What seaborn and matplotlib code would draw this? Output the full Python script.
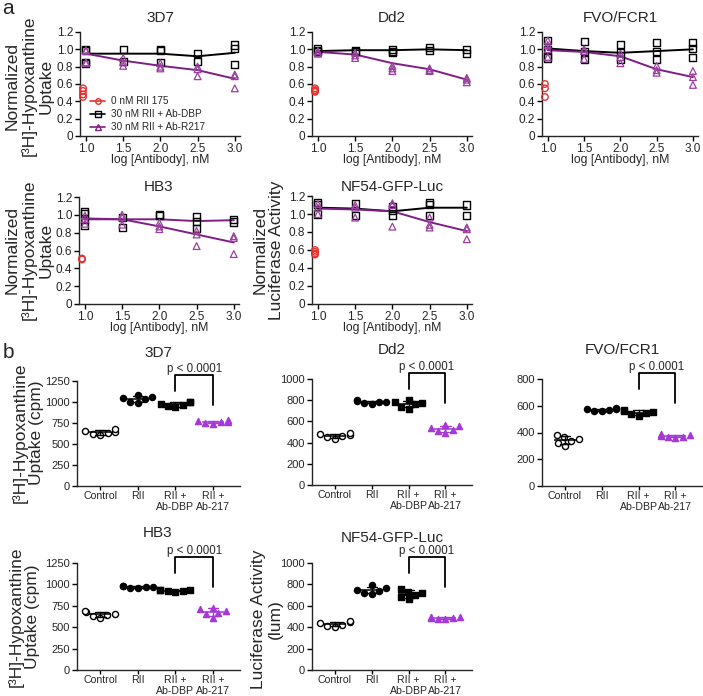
import numpy as np
import pandas as pd
import matplotlib
matplotlib.use("Agg")
import matplotlib.pyplot as plt
from matplotlib.lines import Line2D
import seaborn as sns

sns.set_theme(style="ticks")
plt.rcParams["font.family"] = ["Liberation Sans", "DejaVu Sans"]
plt.rcParams["axes.linewidth"] = 1.0

W, H = 703, 696

# ---------------- panel a data ----------------
DOSES = [1.0, 1.5, 2.0, 2.5, 3.0]
RED_X = 0.96

A_3D7_RED = [0.55, 0.52, 0.48, 0.45]
A_3D7_DBP = [[1.00, 0.99, 0.85, 0.84], [1.00, 0.86], [1.00, 0.99, 0.85], [0.95, 0.86], [1.05, 1.01, 0.82]]
A_3D7_R217 = [[0.99, 0.98, 0.85, 0.84], [0.90, 0.85, 0.81], [0.84, 0.80, 0.78], [0.80, 0.77, 0.69], [0.71, 0.69, 0.55]]
A_3D7_DBP_LINE = [0.95, 0.95, 0.95, 0.92, 0.96]
A_3D7_R217_LINE = [0.95, 0.87, 0.81, 0.76, 0.66]

A_DD2_RED = [0.55, 0.53, 0.52, 0.51]
A_DD2_DBP = [[1.01, 0.99, 0.98], [0.99, 0.98], [1.00, 0.97, 0.96], [1.02, 0.99], [1.00, 0.95]]
A_DD2_R217 = [[0.98, 0.96, 0.95], [0.96, 0.93, 0.90], [0.81, 0.78, 0.75], [0.78, 0.76, 0.75], [0.67, 0.65, 0.62]]
A_DD2_DBP_LINE = [0.98, 0.99, 0.99, 1.00, 0.99]
A_DD2_R217_LINE = [0.97, 0.94, 0.84, 0.77, 0.65]

A_FVO_RED = [0.60, 0.55, 0.45]
A_FVO_DBP = [[1.10, 1.00, 0.92, 0.90], [1.09, 0.97, 0.88], [1.06, 0.96, 0.88], [1.08, 0.98, 0.88], [1.08, 1.01, 0.91]]
A_FVO_R217 = [[1.10, 1.05, 1.00, 0.91], [1.00, 0.98, 0.89], [0.95, 0.91, 0.84], [0.81, 0.76, 0.73], [0.75, 0.68, 0.59]]
A_FVO_DBP_LINE = [1.01, 0.98, 0.96, 0.98, 1.00]
A_FVO_R217_LINE = [0.99, 0.97, 0.92, 0.77, 0.68]

A_HB3_RED = [0.51, 0.50]
A_HB3_DBP = [[1.04, 1.02, 0.95, 0.88], [0.97, 0.86], [1.00, 0.99], [0.98, 0.93, 0.85], [0.95, 0.92]]
A_HB3_R217 = [[0.99, 0.95, 0.90], [1.00, 0.97, 0.89], [0.91, 0.87, 0.84], [0.82, 0.78, 0.65], [0.76, 0.74, 0.56]]
A_HB3_DBP_LINE = [0.95, 0.95, 0.95, 0.93, 0.94]
A_HB3_R217_LINE = [0.96, 0.95, 0.87, 0.78, 0.69]

A_NF54_RED = [0.60, 0.58, 0.56, 0.55]
A_NF54_DBP = [[1.13, 1.11, 1.00], [1.12, 0.98], [1.08, 1.04, 0.98], [1.13, 1.11, 0.98], [1.10, 0.98]]
A_NF54_R217 = [[1.11, 1.07, 1.00], [1.10, 1.07, 0.96], [1.12, 1.10, 0.86], [0.96, 0.88, 0.85], [0.85, 0.83, 0.72]]
A_NF54_DBP_LINE = [1.07, 1.06, 1.03, 1.07, 1.07]
A_NF54_R217_LINE = [1.06, 1.05, 1.03, 0.91, 0.81]

A_YTICKS = [0, 0.2, 0.4, 0.6, 0.8, 1.0, 1.2]
A_YTICKLABELS = ["0", "0.2", "0.4", "0.6", "0.8", "1.0", "1.2"]
A_XTICKS = [1.0, 1.5, 2.0, 2.5, 3.0]
A_XTICKLABELS = ["1.0", "1.5", "2.0", "2.5", "3.0"]
LEGEND_LABELS = ["0 nM RII 175", "30 nM RII + Ab-DBP", "30 nM RII + Ab-R217"]

# ---------------- panel b data ----------------
CATS = ["Control", "RII", "RII +\nAb-DBP", "RII +\nAb-217"]
B_3D7 = [[605, 620, 630, 640, 655, 680], [990, 1000, 1030, 1045, 1065, 1080],
         [940, 950, 960, 980, 995, 1000], [735, 750, 760, 765, 770, 780]]
B_DD2 = [[430, 450, 460, 470, 480, 490], [765, 772, 780, 785, 790, 798],
         [720, 740, 760, 770, 780, 800], [490, 505, 520, 540, 555, 570]]
B_FVO = [[300, 320, 335, 350, 365, 380], [558, 563, 568, 573, 578, 582],
         [525, 538, 545, 555, 562, 570], [360, 365, 370, 375, 380, 388]]
B_HB3 = [[610, 630, 648, 660, 675, 690], [958, 963, 968, 973, 978, 985],
         [915, 920, 925, 930, 935, 940], [605, 650, 670, 690, 710, 730]]
B_NF54 = [[400, 412, 425, 438, 448, 455], [710, 722, 738, 750, 762, 790],
          [660, 680, 700, 718, 732, 760], [474, 479, 484, 489, 494, 500]]
B_YMAX = {"3D7": 1250, "Dd2": 1000, "FVO/FCR1": 800, "HB3": 1250, "NF54-GFP-Luc": 1000}
B_YSTEP = {"3D7": 250, "Dd2": 200, "FVO/FCR1": 200, "HB3": 250, "NF54-GFP-Luc": 200}

RED = "#E8312F"
PURPLE_A = "#7E1F86"
PURPLE_A_PT = "#9A3FA0"
PURPLE_B = "#A638D8"

fig = plt.figure(figsize=(W / 100, H / 100), dpi=100)


def add_ax(l, t, r, b):
    return fig.add_axes([l / W, 1 - b / H, (r - l) / W, (b - t) / H])


def ftext(px, py, s, **kw):
    fig.text(px / W, 1 - py / H, s, **kw)


def flatten(groups):
    xs, ys = [], []
    for d, g in zip(DOSES, groups):
        for v in g:
            xs.append(d)
            ys.append(v)
    return xs, ys


def panel_a(ax, red, dbp, r217, dbp_line, r217_line, dbp_line_color="black"):
    sns.scatterplot(x=[RED_X] * len(red), y=red, ax=ax, marker="o", s=22,
                    facecolor="none", edgecolor=RED, linewidth=1.0, clip_on=False, zorder=4)
    x, y = flatten(dbp)
    sns.scatterplot(x=x, y=y, ax=ax, marker="s", s=26, facecolor="none",
                    edgecolor="black", linewidth=1.0, clip_on=False, zorder=4)
    x, y = flatten(r217)
    sns.scatterplot(x=x, y=y, ax=ax, marker="^", s=24, facecolor="none",
                    edgecolor=PURPLE_A_PT, linewidth=0.9, clip_on=False, zorder=4)
    sns.lineplot(x=DOSES, y=dbp_line, ax=ax, color=dbp_line_color, linewidth=1.4, zorder=3)
    sns.lineplot(x=DOSES, y=r217_line, ax=ax, color=PURPLE_A, linewidth=1.4, zorder=3)
    ax.set_xlim(0.92, 3.07)
    ax.set_ylim(0, 1.2)
    ax.set_yticks(A_YTICKS)
    ax.set_yticklabels(A_YTICKLABELS)
    ax.set_xticks(A_XTICKS)
    ax.set_xticklabels(A_XTICKLABELS)
    ax.tick_params(labelsize=8.5, length=3.5, width=1, pad=1.5, color="black")
    ax.set_xlabel("")
    ax.set_ylabel("")
    sns.despine(ax=ax)


def panel_b(ax, name, groups):
    for i, (cat, vals) in enumerate(zip(CATS, groups)):
        kw = dict(size=4.4, linewidth=1.0, edgecolor="black")
        if i == 0:
            kw.update(marker="o", color="white")
        elif i == 1:
            kw.update(marker="o", color="black")
        elif i == 2:
            kw.update(marker="s", color="black", size=4.2)
        else:
            kw.update(marker="^", color=PURPLE_B, edgecolor=PURPLE_B, size=4.4)
        sns.swarmplot(x=[cat] * len(vals), y=vals, order=CATS, ax=ax, zorder=3, **kw)
        c = PURPLE_B if i == 3 else "black"
        sns.pointplot(x=[cat] * len(vals), y=vals, order=CATS, ax=ax, errorbar="sd",
                      capsize=0.28, markers="_", markersize=16, markeredgewidth=1.1,
                      linestyle="none", color=c, err_kws={"linewidth": 1.0}, zorder=4)
    ymax = B_YMAX[name]
    ax.set_ylim(0, ymax)
    ax.set_yticks(np.arange(0, ymax + 1, B_YSTEP[name]))
    ax.set_xlim(-0.62, 3.72)
    ax.set_xticks(range(len(CATS)))
    ax.set_xticklabels(CATS, linespacing=1.1)
    ax.tick_params(axis="y", labelsize=8, length=3.5, width=1, pad=1.5, color="black")
    ax.tick_params(axis="x", labelsize=7.6, length=3, width=1, pad=0.8, color="black")
    ax.set_xlabel("")
    ax.set_ylabel("")
    sns.despine(ax=ax)
    # significance bracket
    ax.plot([2, 2, 3, 3], [0.907 * ymax, 1.055 * ymax, 1.055 * ymax, 0.772 * ymax],
            color="black", linewidth=1.3, clip_on=False, zorder=5)
    ax.text(2.5, 1.115 * ymax, "p < 0.0001", ha="center", va="center", fontsize=8.3)


# ---------------- panel a axes ----------------
axa = [add_ax(80, 32, 240, 136), add_ax(312, 32, 472, 136), add_ax(542, 32, 698, 136),
       add_ax(79, 197, 239, 304), add_ax(312, 196, 472, 304)]
panel_a(axa[0], A_3D7_RED, A_3D7_DBP, A_3D7_R217, A_3D7_DBP_LINE, A_3D7_R217_LINE)
panel_a(axa[1], A_DD2_RED, A_DD2_DBP, A_DD2_R217, A_DD2_DBP_LINE, A_DD2_R217_LINE)
panel_a(axa[2], A_FVO_RED, A_FVO_DBP, A_FVO_R217, A_FVO_DBP_LINE, A_FVO_R217_LINE)
panel_a(axa[3], A_HB3_RED, A_HB3_DBP, A_HB3_R217, A_HB3_DBP_LINE, A_HB3_R217_LINE,
        dbp_line_color=PURPLE_A)
panel_a(axa[4], A_NF54_RED, A_NF54_DBP, A_NF54_R217, A_NF54_DBP_LINE, A_NF54_R217_LINE)

handles = [
    Line2D([], [], color=RED, marker="o", mfc="none", mec=RED, ms=4, lw=1.2),
    Line2D([], [], color="black", marker="s", mfc="none", mec="black", ms=4, lw=1.2),
    Line2D([], [], color=PURPLE_A, marker="^", mfc="none", mec=PURPLE_A, ms=4, lw=1.2),
]
axa[0].legend(handles, LEGEND_LABELS, loc="lower left", bbox_to_anchor=(0.02, -0.03),
              frameon=False, fontsize=7.2, handlelength=1.5, handletextpad=0.6,
              labelspacing=0.3, borderaxespad=0.3)

titles_a = [("3D7", 160, 18), ("Dd2", 392, 18), ("FVO/FCR1", 620, 18),
            ("HB3", 159, 187), ("NF54-GFP-Luc", 392, 187)]
for s, x, y in titles_a:
    ftext(x, y, s, ha="center", va="center", fontsize=11)
for ax, (x, y) in zip(axa, [(160, 160), (392, 160), (620, 160), (159, 328), (392, 328)]):
    ftext(x, y, "log [Antibody], nM", ha="center", va="center", fontsize=8.8)

ylab_kw = dict(rotation=90, ha="center", va="center", fontsize=12.5, linespacing=1.12,
               multialignment="center")
ftext(29, 86, "Normalized\n[³H]-Hypoxanthine\nUptake", **ylab_kw)
ftext(29, 250, "Normalized\n[³H]-Hypoxanthine\nUptake", **ylab_kw)
ftext(268, 250, "Normalized\nLuciferase Activity", **ylab_kw)

# ---------------- panel b axes ----------------
axb = [add_ax(77, 381, 240, 486), add_ax(312, 379, 472, 485), add_ax(542, 379, 702, 486),
       add_ax(77, 563, 240, 670), add_ax(312, 563, 472, 670)]
names = ["3D7", "Dd2", "FVO/FCR1", "HB3", "NF54-GFP-Luc"]
datas = [B_3D7, B_DD2, B_FVO, B_HB3, B_NF54]
for ax, n, d in zip(axb, names, datas):
    panel_b(ax, n, d)

titles_b = [("3D7", 158, 353), ("Dd2", 392, 350), ("FVO/FCR1", 622, 350),
            ("HB3", 158, 533), ("NF54-GFP-Luc", 392, 538)]
for s, x, y in titles_b:
    ftext(x, y, s, ha="center", va="center", fontsize=11)

ftext(28, 433, "[³H]-Hypoxanthine\nUptake (cpm)", **ylab_kw)
ftext(24, 617, "[³H]-Hypoxanthine\nUptake (cpm)", **ylab_kw)
ftext(267, 619, "Luciferase Activity\n(lum)", **ylab_kw)

ftext(2, 8, "a", ha="left", va="center", fontsize=15)
ftext(3, 352, "b", ha="left", va="center", fontsize=15)

fig.savefig("out.png", dpi=100)
